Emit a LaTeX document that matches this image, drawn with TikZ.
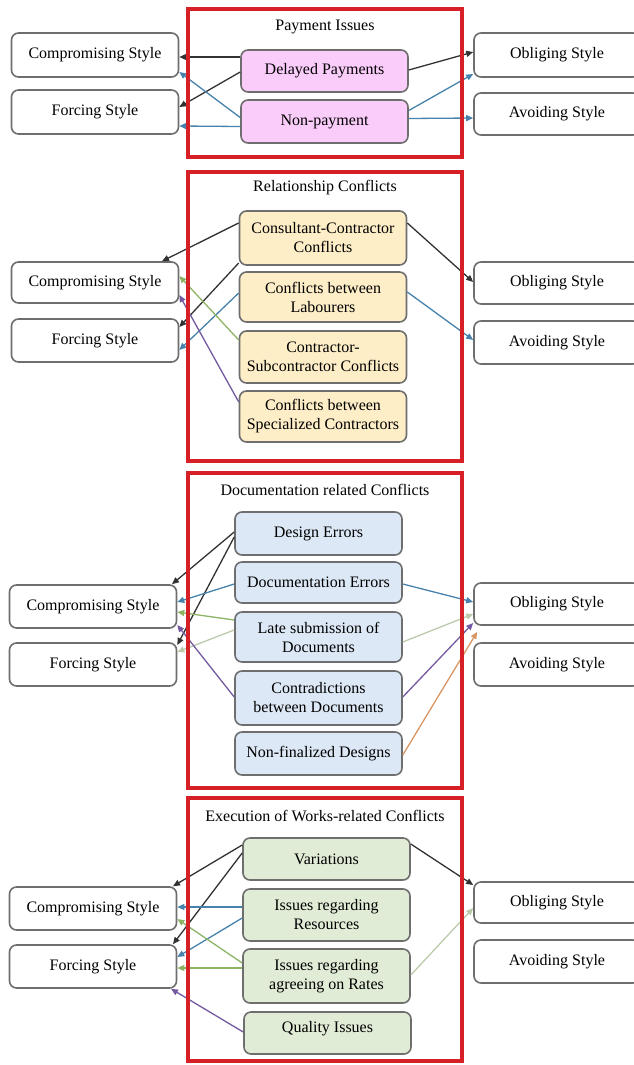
\documentclass[tikz,border=0pt]{standalone}
\usepackage{fontspec}
\setmainfont{Liberation Serif}
\usetikzlibrary{arrows.meta}
\definecolor{framered}{RGB}{214,32,38}
\definecolor{boxgray}{RGB}{110,110,110}
\definecolor{pinkfill}{RGB}{250,204,250}
\definecolor{yellowfill}{RGB}{253,238,200}
\definecolor{bluefill}{RGB}{220,232,245}
\definecolor{greenfill}{RGB}{225,236,214}
\definecolor{linkblack}{RGB}{50,50,50}
\definecolor{linkblue}{RGB}{70,130,172}
\definecolor{linkgreen}{RGB}{140,180,100}
\definecolor{linkpale}{RGB}{188,202,172}
\definecolor{linkpurple}{RGB}{115,90,160}
\definecolor{linkorange}{RGB}{215,150,100}

\begin{document}
\begin{tikzpicture}[x=1pt,y=-1pt,
  every node/.style={font=\fontsize{16}{19}\selectfont, align=center, inner sep=1pt},
  stylebox/.style={draw=boxgray, line width=1.6pt, rounded corners=7pt, fill=white, minimum width=167pt},
  issue/.style={draw=boxgray, line width=1.6pt, rounded corners=7pt, minimum width=167pt},
  heading/.style={font=\fontsize{16}{19}\selectfont},
  frame/.style={draw=framered, line width=3.5pt},
  link/.style={line width=1.3pt, -{Triangle[length=7pt,width=6pt]}}]
\useasboundingbox (0,0) rectangle (634,1065);

\node[stylebox, minimum height=44pt] (c1) at (95,55) {Compromising Style};
\node[stylebox, minimum height=44pt] (f1) at (95,112) {Forcing Style};
\node[stylebox, minimum height=44pt, minimum width=166pt] (o1) at (557,55) {Obliging Style};
\node[stylebox, minimum height=42pt, minimum width=166pt] (a1) at (557,114) {Avoiding Style};
\node[heading] (t1) at (325,27) {Payment Issues};
\node[issue, fill=pinkfill, minimum height=42pt] (p1) at (324.5,71) {Delayed Payments};
\node[issue, fill=pinkfill, minimum height=43pt] (p2) at (324.5,121.5) {Non-payment};

\node[stylebox, minimum height=41pt] (c2) at (95,282.5) {Compromising Style};
\node[stylebox, minimum height=43pt] (f2) at (95,340.5) {Forcing Style};
\node[stylebox, minimum height=42pt, minimum width=166pt] (o2) at (557,283) {Obliging Style};
\node[stylebox, minimum height=43pt, minimum width=166pt] (a2) at (557,342.5) {Avoiding Style};
\node[heading] (t2) at (325,188) {Relationship Conflicts};
\node[issue, fill=yellowfill, minimum height=54pt] (r1) at (323,238) {Consultant-Contractor\\Conflicts};
\node[issue, fill=yellowfill, minimum height=50pt] (r2) at (323,297) {Conflicts between\\Labourers};
\node[issue, fill=yellowfill, minimum height=52pt] (r3) at (323,357) {Contractor-\\Subcontractor Conflicts};
\node[issue, fill=yellowfill, minimum height=51pt] (r4) at (323,416.5) {Conflicts between\\Specialized Contractors};

\node[stylebox, minimum height=43pt] (c3) at (93,606.5) {Compromising Style};
\node[stylebox, minimum height=43pt] (f3) at (93,664.5) {Forcing Style};
\node[stylebox, minimum height=42pt, minimum width=166pt] (o3) at (557,604) {Obliging Style};
\node[stylebox, minimum height=43pt, minimum width=166pt] (a3) at (557,664.5) {Avoiding Style};
\node[heading] (t3) at (325,490) {Documentation related Conflicts};
\node[issue, fill=bluefill, minimum height=43pt] (d1) at (318.5,533.5) {Design Errors};
\node[issue, fill=bluefill, minimum height=41pt] (d2) at (318.5,582.5) {Documentation Errors};
\node[issue, fill=bluefill, minimum height=50pt] (d3) at (318.5,637) {Late submission of\\Documents};
\node[issue, fill=bluefill, minimum height=54pt] (d4) at (318.5,698) {Contradictions\\between Documents};
\node[issue, fill=bluefill, minimum height=43pt] (d5) at (318.5,753.5) {Non-finalized Designs};

\node[stylebox, minimum height=43pt] (c4) at (93,908.5) {Compromising Style};
\node[stylebox, minimum height=43pt] (f4) at (93,966.5) {Forcing Style};
\node[stylebox, minimum height=41pt, minimum width=166pt] (o4) at (557,902.5) {Obliging Style};
\node[stylebox, minimum height=43pt, minimum width=166pt] (a4) at (557,961.5) {Avoiding Style};
\node[heading] (t4) at (325,816) {Execution of Works-related Conflicts};
\node[issue, fill=greenfill, minimum height=42pt] (e1) at (326.5,859) {Variations};
\node[issue, fill=greenfill, minimum height=52pt] (e2) at (326.5,915) {Issues regarding\\Resources};
\node[issue, fill=greenfill, minimum height=54pt] (e3) at (326.5,976) {Issues regarding\\agreeing on Rates};
\node[issue, fill=greenfill, minimum height=42pt] (e4) at (327.5,1033) {\raisebox{13pt}{Quality Issues}};

\draw[link, linkblack] ([yshift=14pt]p1.west) -- ([yshift=-2pt]c1.east);
\draw[link, linkblack] ([yshift=-1pt]p1.west) -- ([yshift=5pt]f1.east);
\draw[link, linkblue] ([yshift=4pt]p2.west) -- ([yshift=-17pt]c1.east);
\draw[link, linkblue] ([yshift=-5pt]p2.west) -- ([yshift=-14pt]f1.east);
\draw[link, linkblack] ([yshift=1pt]p1.east) -- ([yshift=3pt]o1.west);
\draw[link, linkblue] ([yshift=11pt]p2.east) -- ([yshift=-19pt]o1.west);
\draw[link, linkblue] ([yshift=3pt]p2.east) -- ([yshift=-4pt]a1.west);

\draw[link, linkblack] ([yshift=15pt]r1.west) -- ([xshift=67pt]c2.north);
\draw[link, linkblack] ([yshift=-25pt]r1.west) -- ([yshift=13.5pt]f2.east);
\draw[link, linkblack] ([yshift=15pt]r1.east) -- ([yshift=1pt]o2.west);
\draw[link, linkblue] ([yshift=4pt]r2.west) -- ([yshift=-9.5pt]f2.east);
\draw[link, linkblue] ([yshift=5pt]r2.east) -- ([yshift=2.5pt]a2.west);
\draw[link, linkgreen] ([yshift=17pt]r3.west) -- ([yshift=6.5pt]c2.east);
\draw[link, linkpurple] ([yshift=14.5pt]r4.west) -- ([yshift=-12.5pt]c2.east);

\draw[link, linkblack] ([yshift=1.5pt]d1.west) -- ([xshift=79pt]c3.north);
\draw[link, linkblack] ([yshift=-3.5pt]d1.west) -- ([yshift=19.5pt]f3.east);
\draw[link, linkblue] ([yshift=-1.5pt]d2.west) -- ([yshift=4.5pt]c3.east);
\draw[link, linkblue] ([yshift=-1.5pt]d2.east) -- ([yshift=2pt]o3.west);
\draw[link, linkgreen] ([yshift=17pt]d3.west) -- ([yshift=-5.5pt]c3.east);
\draw[link, linkpale] ([yshift=7pt]d3.west) -- ([yshift=12.5pt]f3.east);
\draw[link, linkpale] ([yshift=-5pt]d3.east) -- ([yshift=-10pt]o3.west);
\draw[link, linkpurple] ([yshift=1pt]d4.west) -- ([yshift=-18.5pt]c3.east);
\draw[link, linkpurple] ([yshift=1pt]d4.east) -- ([yshift=-19pt]o3.west);
\draw[link, linkorange] ([yshift=-1.5pt]d5.east) -- ([xshift=4pt,yshift=-6pt]o3.south west);

\draw[link, linkblack] ([yshift=14pt]e1.west) -- ([xshift=80pt]c4.north);
\draw[link, linkblack] ([yshift=6pt]e1.west) -- ([xshift=80pt]f4.north);
\draw[link, linkblack] ([yshift=15pt]e1.east) -- ([yshift=17.5pt]o4.west);
\draw[link, linkblue] ([yshift=8pt]e2.west) -- ([yshift=1.5pt]c4.east);
\draw[link, linkblue] ([yshift=-3pt]e2.west) -- ([yshift=9.5pt]f4.east);
\draw[link, linkgreen] ([yshift=13pt]e3.west) -- ([yshift=-10.5pt]c4.east);
\draw[link, linkgreen] ([yshift=8pt]e3.west) -- ([yshift=-1.5pt]f4.east);
\draw[link, linkpale] ([yshift=1pt]e3.east) -- ([yshift=-5.5pt]o4.west);
\draw[link, linkpurple] ([yshift=1pt]e4.west) -- ([xshift=78pt]f4.south);

\draw[frame] (188,9) rectangle (462,157);
\draw[frame] (188,172) rectangle (462,461);
\draw[frame] (188,473) rectangle (462,788);
\draw[frame] (188,798) rectangle (462,1061);
\end{tikzpicture}
\end{document}
